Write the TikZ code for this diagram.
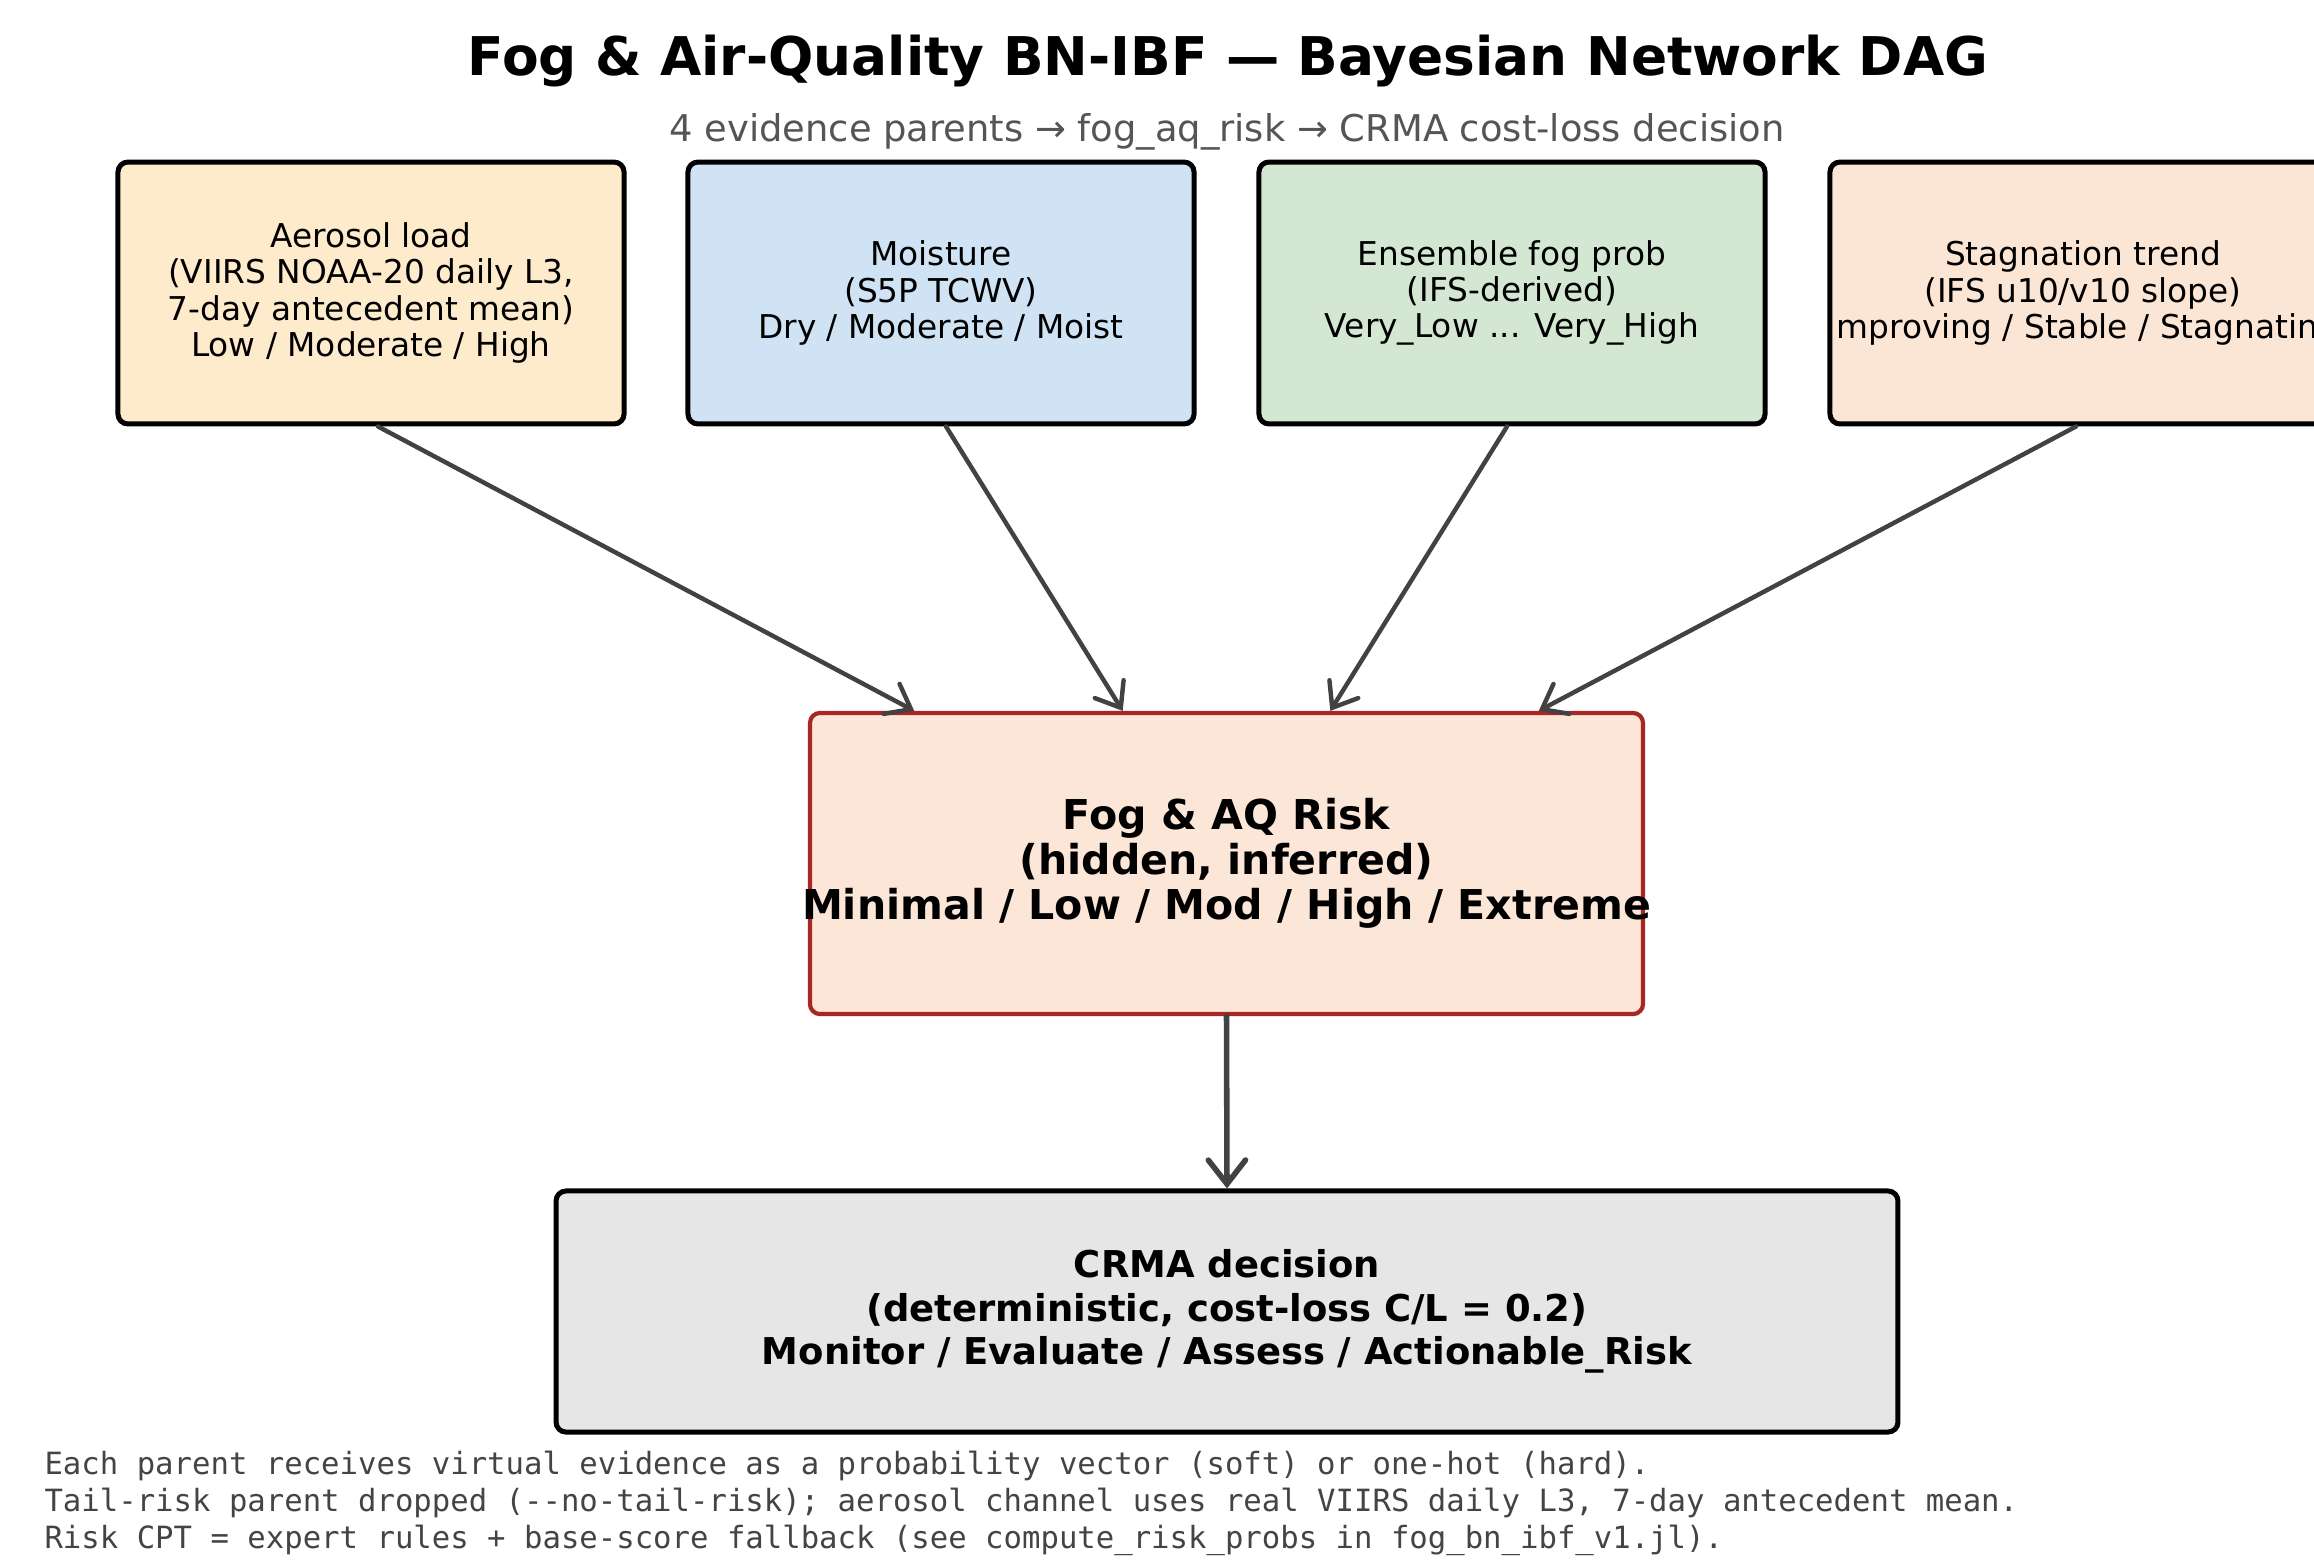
\documentclass[tikz,border=0pt]{standalone}
\usepackage{fontspec}
\setmainfont{DejaVu Sans}
\setmonofont{DejaVu Sans Mono}
\usetikzlibrary{arrows.meta,calc}
\definecolor{aerofill}{HTML}{FDEBCB}
\definecolor{moistfill}{HTML}{CFE3F5}
\definecolor{ensfill}{HTML}{D4E7D3}
\definecolor{stagfill}{HTML}{FBE5D5}
\definecolor{riskfill}{HTML}{FCE6D7}
\definecolor{riskedge}{HTML}{A82626}
\definecolor{crmafill}{HTML}{E6E6E6}
\definecolor{arrowgray}{HTML}{424242}
\definecolor{subgray}{HTML}{555555}
\definecolor{footgray}{HTML}{444444}
\tikzset{
  parentbox/.style={rectangle, rounded corners=3.6pt, draw=black, line width=1.8pt,
    minimum width=182.2pt, minimum height=94.3pt, inner sep=0pt},
  parenttext/.style={align=center, inner sep=0pt, font=\fontsize{11.8}{13.1}\selectfont},
  riskbox/.style={rectangle, rounded corners=3.6pt, draw=riskedge, fill=riskfill, line width=1.5pt,
    minimum width=299.9pt, minimum height=108.4pt, inner sep=0pt},
  crmabox/.style={rectangle, rounded corners=3.6pt, draw=black, fill=crmafill, line width=1.8pt,
    minimum width=483.1pt, minimum height=86.8pt, inner sep=0pt},
  risktext/.style={align=center, inner sep=0pt, font=\bfseries\fontsize{14.8}{16.2}\selectfont},
  crmatext/.style={align=center, inner sep=0pt, font=\bfseries\fontsize{13.3}{15.7}\selectfont},
  arr/.style={draw=arrowgray, line width=1.6pt, line cap=round,
    -{Straight Barb[length=7.9pt, width=12.2pt, line cap=round]}},
  bigarr/.style={draw=arrowgray, line width=2pt, line cap=round,
    -{Straight Barb[length=8.6pt, width=13.4pt, line cap=round]}},
  foottext/.style={anchor=base west, inner sep=0pt, text=footgray,
    font=\ttfamily\fontsize{11.03}{13}\selectfont}
}
\begin{document}
\begin{tikzpicture}[x=0.36pt, y=-0.36pt]
\useasboundingbox (0,0) rectangle (2314,1565);
\fill[white] (0,0) rectangle (2314,1565);

% title and subtitle
\node[anchor=base, inner sep=0pt, font=\bfseries\fontsize{19.2}{23}\selectfont] (title) at (1228,75)
  {Fog \& Air-Quality BN-IBF — Bayesian Network DAG};
\node[anchor=base, inner sep=0pt, text=subgray, font=\fontsize{13.27}{15}\selectfont] (subtitle) at (1227,141)
  {4 evidence parents → fog\_aq\_risk → CRMA cost-loss decision};

% parent nodes
\node[parentbox, fill=aerofill] (aero) at (371,293) {};
\node[parenttext] (aerot) at (aero.center) {Aerosol load\\(VIIRS NOAA-20 daily L3,\\7-day antecedent mean)\\Low / Moderate / High};

\node[parentbox, fill=moistfill] (moist) at (941,293) {};
\node[parenttext] (moistt) at (moist.center) {Moisture\\(S5P TCWV)\\Dry / Moderate / Moist};

\node[parentbox, fill=ensfill] (ens) at (1512,293) {};
\node[parenttext] (enst) at (ens.center) {Ensemble fog prob\\(IFS-derived)\\Very\_Low ... Very\_High};

\node[parentbox, fill=stagfill] (stag) at (2083,293) {};
\begin{scope}
  \clip (1838,166) rectangle (2333,420);
  \node[parenttext] (stagt) at (stag.center) {Stagnation trend\\(IFS u10/v10 slope)\\Improving / Stable / Stagnating};
\end{scope}

% hidden risk node
\node[riskbox] (risk) at (1226.5,863.5) {};
\node[risktext] (riskt) at (risk.center) {Fog \& AQ Risk\\(hidden, inferred)\\Minimal / Low / Mod / High / Extreme};

% decision node
\node[crmabox] (crma) at (1227,1311.5) {};
\node[crmatext] (crmat) at (crma.center) {CRMA decision\\(deterministic, cost-loss C/L = 0.2)\\Monitor / Evaluate / Assess / Actionable\_Risk};

% connectors
\draw[arr] ($(aero.south)+(7,0)$) -- ($(risk.north west)!0.127!(risk.north east)$);
\draw[arr] ($(moist.south)+(5,0)$) -- ($(risk.north west)!0.376!(risk.north east)$);
\draw[arr] ($(ens.south)+(-5,0)$) -- ($(risk.north west)!0.624!(risk.north east)$);
\draw[arr] ($(stag.south)+(-7,0)$) -- ($(risk.north west)!0.873!(risk.north east)$);
\draw[bigarr] (risk.south) -- (crma.north);

% footer notes
\node[foottext] (foot1) at (44,1474) {Each parent receives virtual evidence as a probability vector (soft) or one-hot (hard).};
\node[foottext] (foot2) at (44,1511) {Tail-risk parent dropped (-{}-no-tail-risk); aerosol channel uses real VIIRS daily L3, 7-day antecedent mean.};
\node[foottext] (foot3) at (44,1548) {Risk CPT = expert rules + base-score fallback (see compute\_risk\_probs in fog\_bn\_ibf\_v1.jl).};
\end{tikzpicture}
\end{document}
